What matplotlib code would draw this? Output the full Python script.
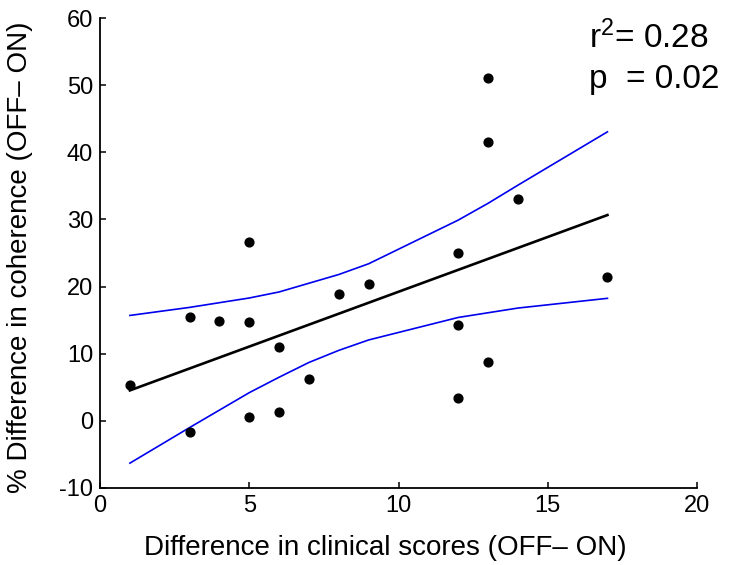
import numpy as np
import matplotlib
matplotlib.use('Agg')
import matplotlib.pyplot as plt

plt.rcParams['font.family'] = ['Liberation Sans', 'DejaVu Sans']
plt.rcParams['axes.unicode_minus'] = False
plt.rcParams['mathtext.fontset'] = 'custom'
plt.rcParams['mathtext.rm'] = 'Liberation Sans'
plt.rcParams['mathtext.it'] = 'Liberation Sans'

# scatter data (clinical score difference vs coherence difference)
score_diff = [1, 3, 3, 4, 5, 5, 5, 6, 6, 7, 8, 9, 12, 12, 12, 13, 13, 13, 14, 17]
coh_diff = [5.3, 15.4, -1.7, 14.9, 26.7, 14.7, 0.55, 11.05, 1.3, 6.25,
            18.9, 20.4, 24.95, 14.3, 3.4, 51.0, 41.5, 8.8, 33.1, 21.5]

# confidence band, read at the distinct x values
band_x = [1, 3, 4, 5, 6, 7, 8, 9, 12, 13, 14, 17]
band_upper = [15.7, 16.9, 17.6, 18.3, 19.2, 20.5, 21.8, 23.4, 29.9, 32.4, 35.1, 43.05]
band_lower = [-6.3, -1.0, 1.6, 4.2, 6.5, 8.7, 10.5, 12.05, 15.4, 16.1, 16.8, 18.25]

x_ticks = [0, 5, 10, 15, 20]
y_ticks = [-10, 0, 10, 20, 30, 40, 50, 60]

# linear fit
slope, intercept = np.polyfit(score_diff, coh_diff, 1)
fit_x = np.array([min(score_diff), max(score_diff)])
fit_y = slope * fit_x + intercept

fig = plt.figure(figsize=(7.41, 5.65), dpi=100)
ax = fig.add_axes([0.135, 0.1363, 0.8056, 0.8318])

ax.plot(band_x, band_upper, color='#0000ee', linewidth=1.2)
ax.plot(band_x, band_lower, color='#0000ee', linewidth=1.2)
ax.plot(fit_x, fit_y, color='black', linewidth=1.9)
ax.scatter(score_diff, coh_diff, s=40, color='black', zorder=3)

ax.set_xlim(0, 20)
ax.set_ylim(-10, 60)
ax.set_xticks(x_ticks)
ax.set_yticks(y_ticks)
ax.set_xticklabels([str(t) for t in x_ticks])
ax.set_yticklabels([str(t) for t in y_ticks])

for side in ['top', 'right']:
    ax.spines[side].set_visible(False)
for side in ['left', 'bottom']:
    ax.spines[side].set_linewidth(1.3)
ax.tick_params(direction='in', length=4, width=1.1, labelsize=17, pad=5)

ax.set_xlabel('Difference in clinical scores (OFF\u2013 ON)', fontsize=20)
ax.set_ylabel('% Difference in coherence (OFF\u2013 ON)', fontsize=20)
ax.xaxis.set_label_coords(0.478, -0.1)
ax.yaxis.set_label_coords(-0.113, 0.49)

fig.text(0.795, 0.915, r'r$^{2}$= 0.28', fontsize=24, ha='left', va='baseline')
fig.text(0.795, 0.844, 'p  = 0.02', fontsize=24, ha='left', va='baseline')

fig.savefig('out.png', dpi=100)
plt.close(fig)
